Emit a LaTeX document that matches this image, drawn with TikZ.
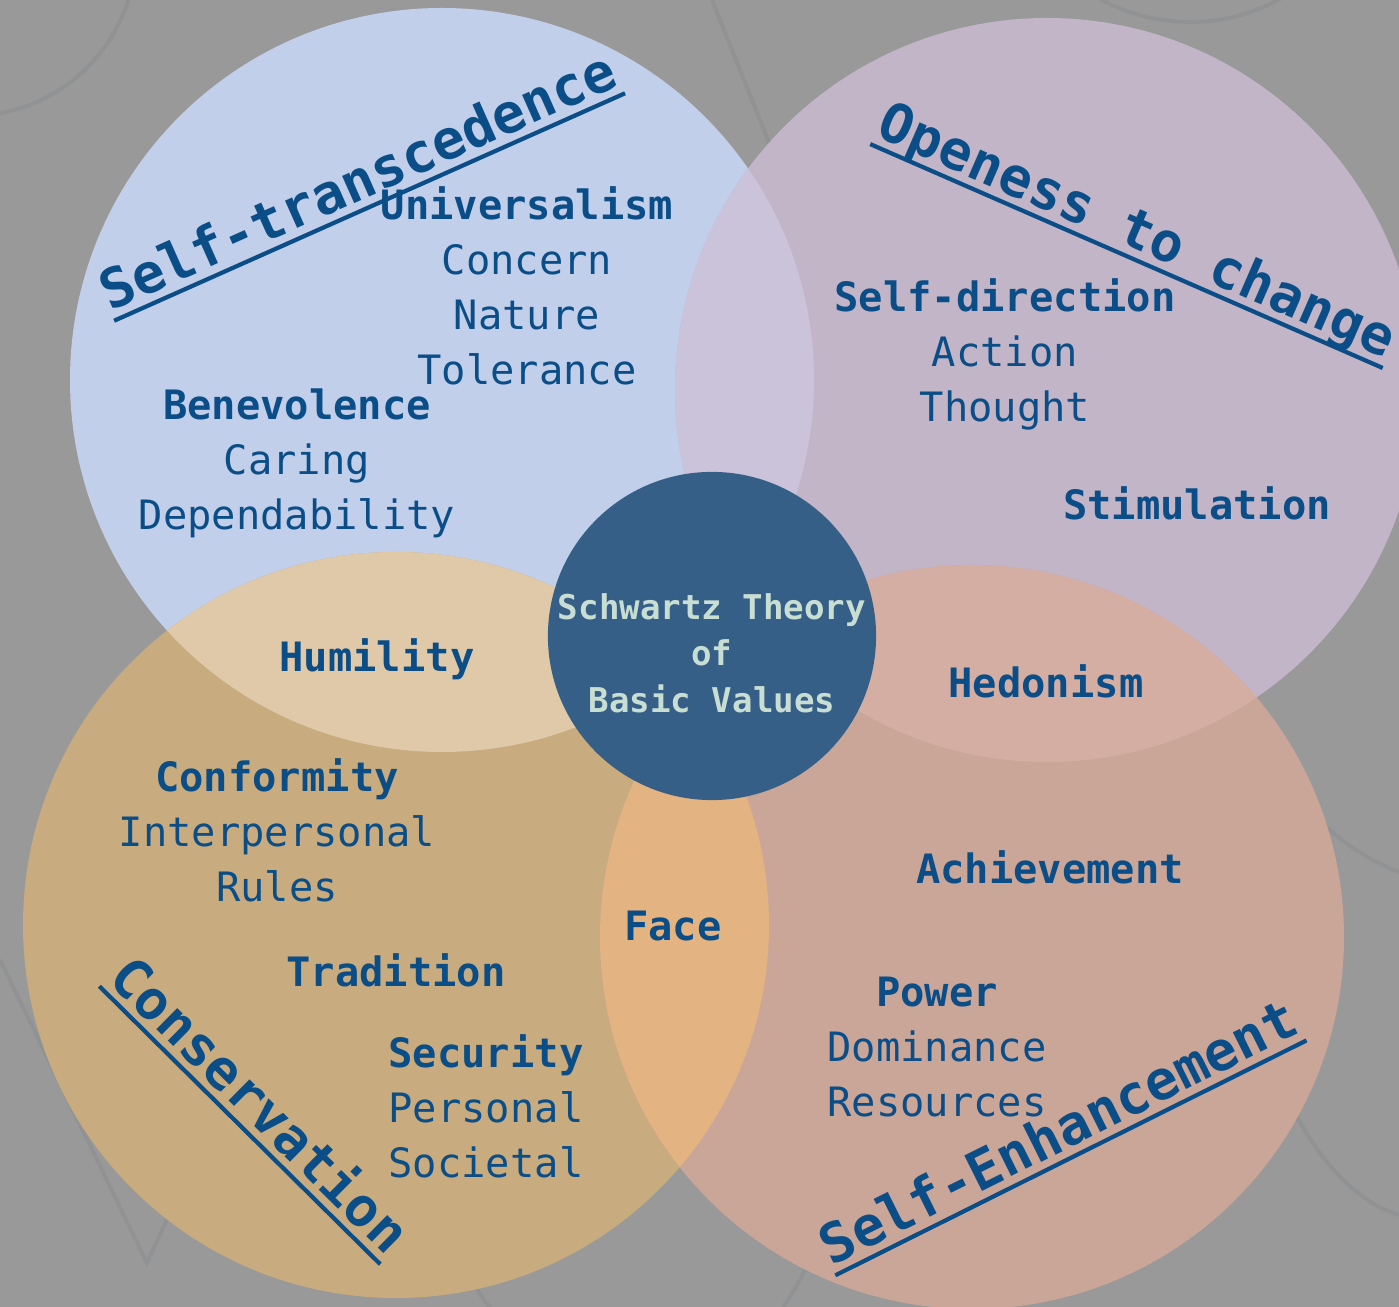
\documentclass[tikz,border=0pt]{standalone}
\usepackage{fontspec}
\setmonofont{DejaVu Sans Mono}
\usepackage{xcolor}
\definecolor{bggray}{HTML}{999999}
\definecolor{bgline}{HTML}{919293}
\definecolor{transblue}{HTML}{C1CFEA}
\definecolor{openpurple}{HTML}{C2B5C8}
\definecolor{constan}{HTML}{C8AB7E}
\definecolor{enhsalmon}{HTML}{CAA699}
\definecolor{lensbp}{HTML}{CBC3D9}
\definecolor{lensbt}{HTML}{E0C9A8}
\definecolor{lensps}{HTML}{D4AEA2}
\definecolor{lensts}{HTML}{E3B382}
\definecolor{corenavy}{HTML}{365F87}
\definecolor{textblue}{HTML}{0B4E87}
\definecolor{textmint}{HTML}{C9DED3}
\usetikzlibrary{calc}

\begin{document}
\begin{tikzpicture}[x=0.01cm, y=-0.01cm,
    valtext/.style={text=textblue, font=\ttfamily\fontsize{11.5}{15.65}\selectfont, align=center, inner sep=0pt},
    valhead/.style={valtext, font=\ttfamily\bfseries\fontsize{11.5}{15.65}\selectfont},
    dimtext/.style={text=textblue, font=\ttfamily\bfseries\fontsize{15.5}{18}\selectfont, inner sep=0pt, text depth=0pt, anchor=south},
    uline/.style={textblue, line width=1.2pt},
    decoline/.style={bgline, line width=1.1pt}]
        \useasboundingbox (0,0) rectangle (1399,1307);
        \clip (0,0) rectangle (1399,1307);
        \fill[bggray] (0,0) rectangle (1399,1307);

        % faint background lines
        \draw[decoline] (-30,-50) circle[radius=166];
        \draw[decoline] (712,0) -- (800,220);
        \draw[decoline] (1190,-165) circle[radius=187];
        \draw[decoline] (0,960) -- (147,1263) -- (300,930);
        \draw[decoline] (1300,800) .. controls (1340,845) and (1370,860) .. (1399,872);
        \draw[decoline] (1280,1083) .. controls (1310,1150) and (1350,1200) .. (1399,1215);
        \draw[decoline] (460,1240) .. controls (468,1275) and (478,1295) .. (490,1307);
        \draw[decoline] (805,1270) .. controls (798,1285) and (790,1297) .. (783,1307);

        % the four dimensions
        \coordinate (trans) at (442,380);
        \coordinate (open) at (1047,390);
        \coordinate (cons) at (396,925);
        \coordinate (enh) at (972,937);
        \fill[transblue] (trans) circle[radius=372];
        \fill[openpurple] (open) circle[radius=372];
        \fill[constan] (cons) circle[radius=373];
        \fill[enhsalmon] (enh) circle[radius=372];
        \begin{scope}
            \clip (trans) circle[radius=372];
            \fill[lensbp] (open) circle[radius=372];
            \fill[lensbt] (cons) circle[radius=373];
        \end{scope}
        \begin{scope}
            \clip (enh) circle[radius=372];
            \fill[lensps] (open) circle[radius=372];
            \fill[lensts] (cons) circle[radius=373];
        \end{scope}

        % centre
        \node[circle, fill=corenavy, minimum size=3.28cm, inner sep=0pt] (core) at (712,636) {};
        \node[text=textmint, font=\ttfamily\bfseries\fontsize{9.7}{13.2}\selectfont, align=center, inner sep=0pt] (coretext) at (712,653) {Schwartz Theory\\of\\Basic Values};

        % dimension titles
        \node[dimtext, rotate=24] (st) at (366,199) {Self-transcedence};
        \node[dimtext, rotate=-23.6] (oc) at (1130,248) {Openess to change};
        \node[dimtext, rotate=-44.7] (co) at (246,1119) {Conservation};
        \node[dimtext, rotate=26.5] (se) at (1067,1150) {Self-Enhancement};
        \foreach \n in {st,oc,co,se}
            \draw[uline] ($(\n.south west)!2.5pt!-90:(\n.south east)$) -- ($(\n.south east)!2.5pt!90:(\n.south west)$);

        % values
        \node[valtext] (univ) at (527,286) {\textbf{Universalism}\\Concern\\Nature\\Tolerance};
        \node[valtext] (bene) at (297,463) {\textbf{Benevolence}\\Caring\\Dependability};
        \node[valtext] (selfdir) at (1005,354) {\textbf{Self-direction}\\Action\\Thought};
        \node[valhead] (stim) at (1197,503) {Stimulation};
        \node[valhead] (humi) at (377,659) {Humility};
        \node[valhead] (hedo) at (1046,681) {Hedonism};
        \node[valtext] (conf) at (277,830) {\textbf{Conformity}\\Interpersonal\\Rules};
        \node[valhead] (trad) at (396,970) {Tradition};
        \node[valtext] (secu) at (486,1106) {\textbf{Security}\\Personal\\Societal};
        \node[valhead] (face) at (673,926) {Face};
        \node[valhead] (achi) at (1050,867) {Achievement};
        \node[valtext] (powe) at (937,1047) {\textbf{Power}\\Dominance\\Resources};
\end{tikzpicture}
\end{document}
